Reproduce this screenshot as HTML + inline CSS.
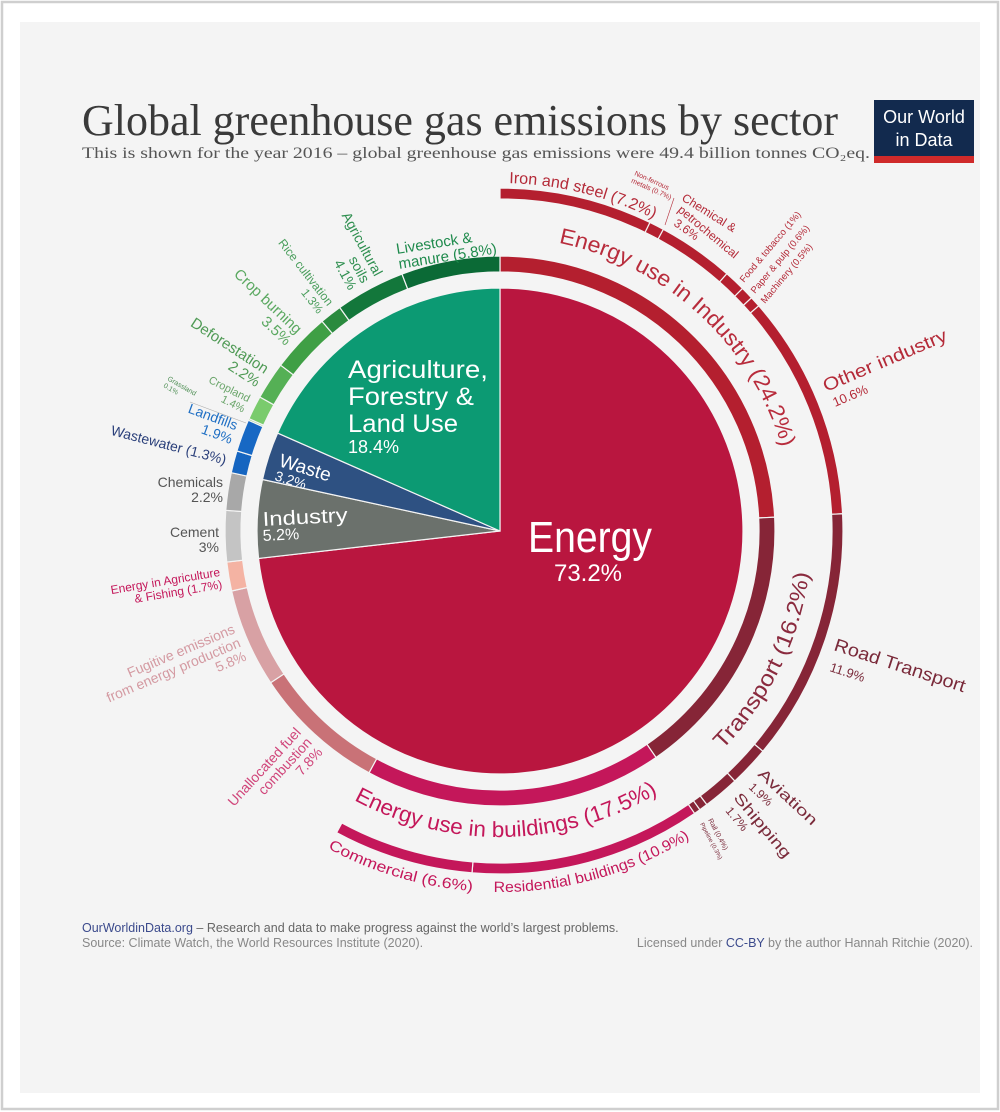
<!DOCTYPE html>
<html><head><meta charset="utf-8"><style>
html,body{margin:0;padding:0;background:#fff;}
svg{display:block;}
text{font-family:"Liberation Sans","DejaVu Sans",sans-serif;}
.serif{font-family:"Liberation Serif",serif;}
</style></head><body>
<svg id="chart" width="1000" height="1112" viewBox="0 0 1000 1112" xmlns="http://www.w3.org/2000/svg">
<rect x="2" y="2" width="996" height="1107" fill="#fff" stroke="#cfcfcf" stroke-width="2.5"/>
<rect x="20" y="22" width="960" height="1071" fill="#f4f4f4"/>
<text class="serif" x="82" y="135" font-size="44" fill="#3a3a3a" textLength="756" lengthAdjust="spacingAndGlyphs">Global greenhouse gas emissions by sector</text>
<text class="serif" x="82" y="158" font-size="16" fill="#555" textLength="788" lengthAdjust="spacingAndGlyphs">This is shown for the year 2016 – global greenhouse gas emissions were 49.4 billion tonnes CO₂eq.</text>
<g>
<rect x="874" y="100" width="100" height="63" fill="#122a4e"/>
<rect x="874" y="156" width="100" height="7" fill="#cf2a2a"/>
<text x="924" y="123" font-size="18" fill="#fff" text-anchor="middle">Our World</text>
<text x="924" y="146" font-size="18" fill="#fff" text-anchor="middle">in Data</text>
</g>
<g id="marks"></g>
<g id="labels"></g>
<text x="82" y="932" font-size="12.5" fill="#666"><tspan fill="#3b4a8c">OurWorldinData.org</tspan> – Research and data to make progress against the world’s largest problems.</text>
<text x="82" y="947" font-size="12.5" fill="#888">Source: Climate Watch, the World Resources Institute (2020).</text>
<text x="973" y="947" font-size="12.5" fill="#888" text-anchor="end">Licensed under <tspan fill="#3b4a8c">CC-BY</tspan> by the author Hannah Ritchie  (2020).</text>
</svg>
<script>
const sectorNames=['Energy','Industry','Waste','Agriculture, Forestry & Land Use'];
const sectorValues=[73.2,5.2,3.2,18.4];
const ringNames=['Energy use in Industry','Transport','Energy use in buildings','Unallocated fuel combustion','Fugitive emissions','Energy in Agriculture & Fishing','Cement','Chemicals','Wastewater','Landfills','Grassland','Cropland','Deforestation','Crop burning','Rice cultivation','Agricultural soils','Livestock & manure'];
const ringValues=[24.2,16.2,17.5,7.8,5.8,1.7,3,2.2,1.3,1.9,0.1,1.4,2.2,3.5,1.3,4.1,5.8];
const outerNames=['Iron and steel','Non-ferrous metals','Chemical & petrochemical','Food & tobacco','Paper & pulp','Machinery','Other industry','Road Transport','Aviation','Shipping','Rail','Pipeline','Residential buildings','Commercial'];
const outerValues=[7.2,0.7,3.6,1,0.6,0.5,10.6,11.9,1.9,1.7,0.4,0.3,10.9,6.6];

const NS='http://www.w3.org/2000/svg';
const cx=500,cy=531,R=243,rin0=259,rin1=275,rout0=332,rout1=343;
const total=sectorValues.reduce((a,b)=>a+b,0);
const deg=v=>v*360/total;
function pt(r,a){const t=a*Math.PI/180;return [cx+r*Math.sin(t),cy-r*Math.cos(t)];}
function P(p){return p[0].toFixed(2)+','+p[1].toFixed(2);}
function arcPath(r0,r1,a0,a1){
  const large=(a1-a0)>180?1:0;
  const p1=pt(r1,a0),p2=pt(r1,a1);
  if(r0===0) return 'M'+cx+','+cy+'L'+P(p1)+'A'+r1+','+r1+' 0 '+large+' 1 '+P(p2)+'Z';
  const p3=pt(r0,a1),p4=pt(r0,a0);
  return 'M'+P(p1)+'A'+r1+','+r1+' 0 '+large+' 1 '+P(p2)+'L'+P(p3)+'A'+r0+','+r0+' 0 '+large+' 0 '+P(p4)+'Z';
}
const marks=document.getElementById('marks');
const labels=document.getElementById('labels');
function mk(tag,attrs,parent){const e=document.createElementNS(NS,tag);for(const k in attrs)e.setAttribute(k,attrs[k]);(parent||marks).appendChild(e);return e;}

const sectorColors=['#b9163f','#6b716c','#2e5182','#0c9a73'];
let acc=0;
sectorValues.forEach((v,i)=>{
  const e=mk('path',{d:arcPath(0,R,deg(acc),deg(acc+v)),fill:sectorColors[i],stroke:'#f4f4f4','stroke-width':1.2});
  
  
  acc+=v;
});
const ringColors=['#b41f2f','#862537','#c4175a','#c97277','#d8a1a4','#f4b3a3','#c4c4c4','#a8a8a8','#1565c0','#1768c4','#8ed07f','#7acb6d','#55b055','#3f9f45','#2a8a3e','#13773b','#0b6a36'];
acc=0;
ringValues.forEach((v,i)=>{
  const e=mk('path',{d:arcPath(rin0,rin1,deg(acc),deg(acc+v)),fill:ringColors[i],stroke:'#f4f4f4','stroke-width':1.2});
  
  
  acc+=v;
});
const outerColors=['#b41f2f','#b41f2f','#b41f2f','#b41f2f','#b41f2f','#b41f2f','#b41f2f','#862537','#862537','#862537','#862537','#862537','#c4175a','#c4175a'];
acc=0;
outerValues.forEach((v,i)=>{
  const e=mk('path',{d:arcPath(rout0,rout1,deg(acc),deg(acc+v)),fill:outerColors[i],stroke:'#f4f4f4','stroke-width':1.2});
  
  
  acc+=v;
});

// curved labels
const defs=mk('defs',{},document.getElementById('chart'));
let pid=0;
function curved(txt,r,a0,a1,cw,size,color,len,name){
  const id='tp'+(pid++);
  const large=Math.abs(a1-a0)>180?1:0;
  mk('path',{id:id,d:'M'+P(pt(r,a0))+'A'+r+','+r+' 0 '+large+' '+(cw?1:0)+' '+P(pt(r,a1)),fill:'none'},defs);
  const t=mk('text',{'font-size':size,fill:color},labels);
  
  
  const tp=mk('textPath',{href:'#'+id},t);
  if(len){tp.setAttribute('textLength',len);tp.setAttribute('lengthAdjust','spacingAndGlyphs');}
  tp.textContent=txt;
}
curved('Energy use in Industry (24.2%)',294,11.5,85,true,22,'#b82c3c',318,'label-energy-use-industry');
curved('Transport (16.2%)',312,134.5,90,false,22,'#8a2a3e',200,'label-transport');
curved('Energy use in buildings (17.5%)',306,208.5,140,false,22,'#c4175a',318,'label-energy-use-buildings');
curved('Iron and steel (7.2%)',348,1.5,40,true,16,'#b42a38',150,'label-iron-steel');
curved('Residential buildings (10.9%)',361,181,140,false,15,'#c4175a',206,'label-residential');
curved('Commercial  (6.6%)',361,208.5,180,false,15,'#c4175a',152,'label-commercial');

// hardcoded rotated labels
function rlabel(lines,x,y,rot,size,color,name,anchor,lh,len){
  const t=mk('text',{transform:'translate('+x+','+y+') rotate('+rot+')','font-size':size,fill:color,'text-anchor':anchor||'start'},labels);
  
  
  lines.forEach((l,k)=>{const s=mk('tspan',{x:0,dy:k===0?0:(lh||size*1.05)},t);if(len&&len[k]){s.setAttribute('textLength',len[k]);s.setAttribute('lengthAdjust','spacingAndGlyphs');}s.textContent=l;});
  return t;
}
rlabel(['Energy'],590,552,0,44,'#fff','pie-label-energy','middle',0,[124]);
rlabel(['73.2%'],588,581,0,24,'#fff','pie-label-energy-value','middle');
rlabel(['Agriculture,','Forestry &','Land Use'],348,378,0,25,'#fff','pie-label-agriculture','start',27,[140,126,110]);
rlabel(['18.4%'],348,453,0,18,'#fff','pie-label-agriculture-value');
rlabel(['Waste'],278,466,17,19,'#fff','pie-label-waste');
rlabel(['3.2%'],274,480,17,14,'#fff','pie-label-waste-value');
rlabel(['Industry'],263,526,-3,20,'#fff','pie-label-industry','start',0,[85]);
rlabel(['5.2%'],263,541,-3,16,'#fff','pie-label-industry-value');
rlabel(['Livestock &','manure (5.8%)'],397,254,-9,15,'#1e8a4c','label-livestock','start',15);
rlabel(['Chemicals','2.2%'],223,487,0,14,'#555','label-chemicals','end',15);
rlabel(['Cement','3%'],219,537,0,14,'#555','label-cement','end',15);
rlabel(['Non-ferrous','metals (0.7%)'],634,175,24,7,'#b42a38','label-non-ferrous','start',8);
mk('line',{x1:674,y1:198,x2:665,y2:225,stroke:'#b42a38','stroke-width':0.6},labels);
rlabel(['Chemical &'],681,200,32,12,'#b42a38','label-chemical');
rlabel(['petrochemical'],677,211,40,12,'#b42a38','label-petrochemical');
rlabel(['3.6%'],673,225,35,12,'#b42a38','label-chemical-value');
rlabel(['Food & tobacco (1%)'],744,283,-50,9.5,'#b42a38','label-food-tobacco');
rlabel(['Paper & pulp (0.6%)'],755,294,-50,9.5,'#b42a38','label-paper-pulp');
rlabel(['Machinery (0.5%)'],765,304,-50,9.5,'#b42a38','label-machinery');
rlabel(['Other industry'],826,392,-23,18,'#b42a38','label-other-industry','start',0,[133]);
rlabel(['10.6%'],835,407,-23,13,'#b42a38','label-other-industry-value');
rlabel(['Road Transport'],833,650,18,18,'#7a2a3a','label-road-transport','start',0,[137]);
rlabel(['11.9%'],829,671,18,13,'#7a2a3a','label-road-value');
rlabel(['Aviation'],757,775,43,15,'#7a2a3a','label-aviation','start',0,[75]);
rlabel(['1.9%'],748,788,43,12,'#7a2a3a','label-aviation-value');
rlabel(['Shipping'],733,798,50,15,'#7a2a3a','label-shipping','start',0,[80]);
rlabel(['1.7%'],725,811,50,12,'#7a2a3a','label-shipping-value');
rlabel(['Rail (0.4%)'],708,820,62,7,'#7a2a3a','label-rail');
rlabel(['Pipeline (0.3%)'],700,824,62,6,'#7a2a3a','label-pipeline');
rlabel(['Grassland','0.1%'],167,380,30,7,'#4f8f55','label-grassland','start',8);
mk('line',{x1:190,y1:402,x2:246,y2:423,stroke:'#aaa','stroke-width':0.6},labels);

// radial labels for left ring, computed from ring segment mid-angles
const radialCfg=[
 {i:3,lines:['Unallocated fuel','combustion','7.8%'],size:14,color:'#d0457a'},
 {i:4,lines:['Fugitive emissions','from energy production','5.8%'],size:14,color:'#d49aa2'},
 {i:5,lines:['Energy in Agriculture','& Fishing (1.7%)'],size:12,color:'#c4175a'},
 {i:8,lines:['Wastewater (1.3%)'],size:14,color:'#2a3f7a'},
 {i:9,lines:['Landfills','1.9%'],size:14,color:'#1f6fc4'},
 {i:11,lines:['Cropland','1.4%'],size:11,color:'#6aa56a'},
 {i:12,lines:['Deforestation','2.2%'],size:15,color:'#4f9a55'},
 {i:13,lines:['Crop burning','3.5%'],size:15,color:'#5aa860'},
 {i:14,lines:['Rice cultivation','1.3%'],size:12,color:'#4a9e5c'},
 {i:15,lines:['Agricultural','soils','4.1%'],size:14,color:'#2f8f50'}
];
radialCfg.forEach(c=>{
  let s=0;for(let k=0;k<c.i;k++)s+=ringValues[k];
  const mid=deg(s+ringValues[c.i]/2);
  const p=pt(283,mid);
  const t=mid*Math.PI/180;
  const rot=Math.atan2(Math.cos(t),-Math.sin(t))*180/Math.PI;
  const lh=c.size*1.05;
  const tx=mk('text',{transform:'translate('+p[0].toFixed(1)+','+p[1].toFixed(1)+') rotate('+rot.toFixed(1)+')','font-size':c.size,fill:c.color,'text-anchor':'end'},labels);
  
  
  c.lines.forEach((l,k)=>{const sp=mk('tspan',{x:0,dy:k===0?(-(c.lines.length-1)*lh/2+c.size*0.35).toFixed(1):lh},tx);sp.textContent=l;});
});
</script>
</body></html>
